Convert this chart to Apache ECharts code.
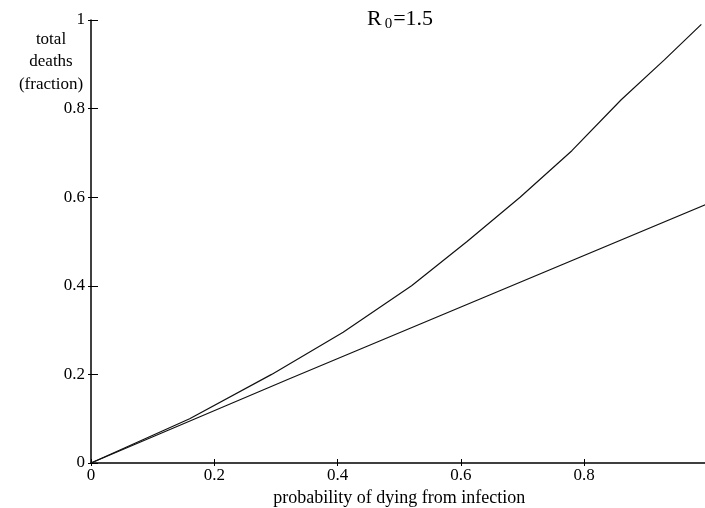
<!DOCTYPE html>
<html>
<head>
<meta charset="utf-8">
<script src="https://cdn.jsdelivr.net/npm/echarts@6/dist/echarts.min.js"></script>
<style>
  html, body { margin: 0; padding: 0; background: #fff; }
  #chart { width: 705px; height: 508px; }
</style>
</head>
<body>
<div id="chart"></div>
<script>
// values
var upperX = [0, 0.16, 0.293, 0.409, 0.52, 0.61, 0.696, 0.78, 0.86, 0.93, 0.99]
var upperY = [0, 0.1, 0.2, 0.295, 0.4, 0.5, 0.6, 0.705, 0.82, 0.91, 0.99]
var lowerX = [0, 0.32, 1]
var lowerY = [0, 0.189, 0.585]
var xTicks = [0, 0.2, 0.4, 0.6, 0.8]
var yTicks = [0, 0.2, 0.4, 0.6, 0.8, 1]

var font = 'Liberation Serif'
var black = '#000'

function pairs (xs, ys) {
  return xs.map(function (x, i) { return [x, ys[i]] })
}

var chart = echarts.init(document.getElementById('chart'))

var labelStyle = { color: black, fontFamily: font, fontSize: 17 }

chart.setOption({
  animation: false,
  title: [
    {
      text: '{a|R}{b|0}{a|=1.5}',
      left: 362,
      top: 2,
      textStyle: {
        rich: {
          a: { fontFamily: font, fontSize: 22, fontWeight: 'normal', color: black },
          b: { fontFamily: font, fontSize: 15, fontWeight: 'normal', color: black, padding: [10, 1, 0, 3] }
        }
      }
    },
    {
      text: 'total\ndeaths\n(fraction)',
      left: 46,
      top: 23,
      textAlign: 'center',
      textStyle: { fontFamily: font, fontSize: 17, fontWeight: 'normal', color: black, lineHeight: 22.5 }
    }
  ],
  grid: { left: 91, top: 20, right: -2.5, bottom: 45, outerBoundsMode: 'none', containLabel: false },
  xAxis: [
    {
      type: 'value',
      min: 0,
      max: 1,
      interval: 0.2,
      name: 'probability of dying from infection',
      nameLocation: 'middle',
      nameGap: 24,
      nameTextStyle: { fontFamily: font, fontSize: 18, color: black },
      axisLine: { show: true, lineStyle: { color: black, width: 1.5 } },
      axisTick: { show: true, inside: true, length: 4, lineStyle: { color: black } },
      axisLabel: Object.assign({ margin: 4, showMaxLabel: false, formatter: function (v) { return xTicks.indexOf(v) >= 0 ? String(v) : '' } }, labelStyle),
      splitLine: { show: false }
    },
    {
      type: 'value',
      position: 'bottom',
      min: 0,
      max: 1,
      interval: 0.2,
      axisLine: { show: false },
      axisTick: { show: true, length: 3, lineStyle: { color: black } },
      axisLabel: { show: false },
      splitLine: { show: false }
    }
  ],
  yAxis: [
    {
      type: 'value',
      min: 0,
      max: 1,
      interval: 0.2,
      axisLine: { show: true, lineStyle: { color: black, width: 1.5 } },
      axisTick: { show: true, inside: true, length: 7, lineStyle: { color: black } },
      axisLabel: Object.assign({ margin: 6, formatter: function (v) { return yTicks.indexOf(v) >= 0 ? String(v) : '' } }, labelStyle),
      splitLine: { show: false }
    },
    {
      type: 'value',
      position: 'left',
      min: 0,
      max: 1,
      interval: 0.2,
      axisLine: { show: false },
      axisTick: { show: true, length: 3, lineStyle: { color: black } },
      axisLabel: { show: false },
      splitLine: { show: false }
    }
  ],
  series: [
    {
      type: 'line',
      data: pairs(upperX, upperY),
      showSymbol: false,
      lineStyle: { color: '#111', width: 1.2 }
    },
    {
      type: 'line',
      data: pairs(lowerX, lowerY),
      showSymbol: false,
      lineStyle: { color: '#111', width: 1.2 }
    }
  ]
})
</script>
</body>
</html>
